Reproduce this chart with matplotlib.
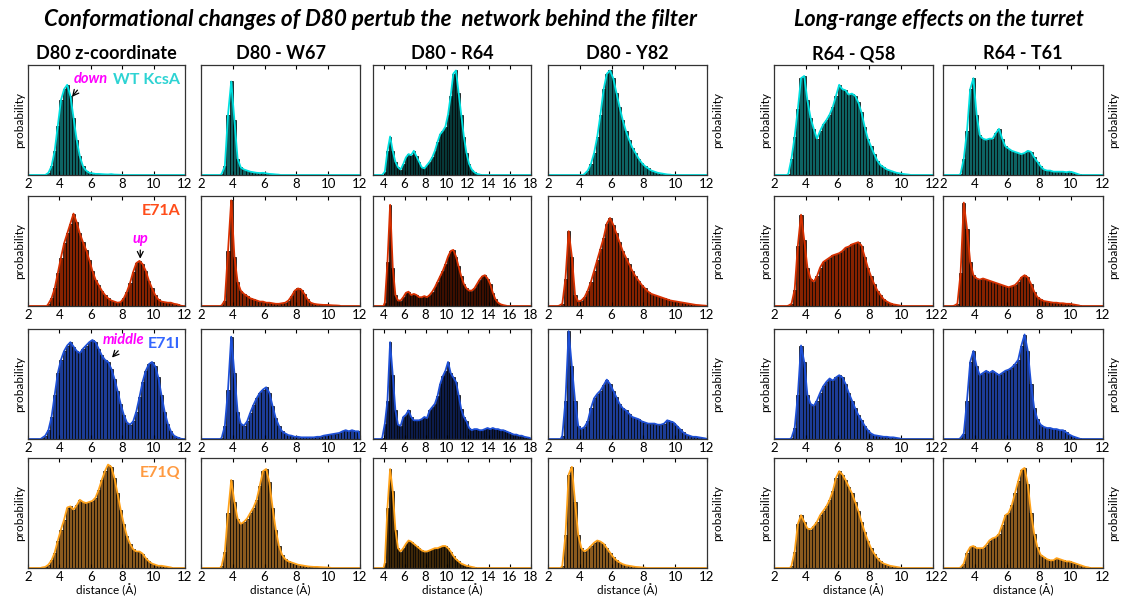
import matplotlib
matplotlib.use("Agg")
import matplotlib.pyplot as plt
import numpy as np

plt.rcParams['font.family'] = ['Lato', 'DejaVu Sans']

# histogram heights (% of panel height), bins start at *_start, width 0.2 A (0.25 A for R64)

# WT KcsA
wt_start = [3.0, 3.2, 3.75, 4.2, 2.8, 3.0]
wt_z = [0, 2, 8, 22, 45, 68, 78, 82, 72, 52, 32, 17, 8, 4, 2, 1.5, 1, 1, 0.8, 0.6, 0.5, 0.8, 0.4, 0.3, 0.2]
wt_w67 = [1, 8, 55, 85, 50, 15, 7, 5, 4, 3, 2.5, 2, 1.8, 2, 1.5, 1, 0.8, 0.5, 0.3]
wt_r64 = [0, 3, 22, 35, 22, 12, 7, 5, 10, 16, 19, 18, 22, 17, 12, 7, 6, 9, 12, 16, 22, 30, 37, 40,
          44, 55, 72, 92, 95, 75, 55, 35, 20, 10, 5, 2.5, 1, 0.5]
wt_y82 = [1, 4, 10, 20, 35, 55, 78, 92, 95, 88, 75, 62, 50, 40, 32, 25, 20, 15, 11, 8, 6, 4, 3, 2,
          1.5, 1, 0.5, 0.3]
wt_q58 = [1, 15, 35, 60, 88, 90, 68, 52, 42, 33, 40, 46, 50, 55, 62, 72, 82, 78, 77, 73, 74, 72, 66,
          57, 44, 33, 26, 19, 13, 9, 7, 5, 4, 3, 2, 1.5, 1, 0.6, 0.3]
wt_t61 = [1, 15, 40, 78, 88, 55, 36, 33, 32, 33, 33, 38, 42, 33, 26, 24, 22, 21, 20, 19, 20, 22, 21,
          16, 12, 8, 5, 4, 4, 3, 3, 3, 3, 2.5, 3, 2.5, 1.5, 0.5]

# E71A
e71a_start = [3.2, 3.2, 4.0, 2.6, 2.8, 2.6]
e71a_z = [2, 7, 16, 30, 44, 57, 66, 75, 84, 76, 66, 58, 51, 42, 32, 24, 19, 14, 10, 7, 5, 4, 3, 3.5,
          7, 13, 21, 31, 39, 41, 38, 32, 23, 16, 10, 6, 4, 3.5, 3, 3, 2, 1.5, 0.5]
e71a_w67 = [0.5, 5, 50, 96, 45, 22, 14, 11, 9, 7, 6, 5, 4, 4, 3, 3, 2.5, 2, 2, 2.5, 3, 5, 9, 14, 16, 15,
            11, 6, 3, 2, 1.5, 1.2, 1, 1, 0.8, 0.6, 0.5, 0.3]
e71a_r64 = [3, 40, 92, 35, 10, 5, 5, 8, 12, 13, 10, 11, 10, 8, 8, 9, 8, 10, 13, 17, 22, 27, 32, 38,
            45, 50, 51, 45, 36, 27, 20, 16, 14, 14, 16, 20, 24, 27, 28, 25, 20, 12, 6, 3, 1.5, 0.8, 0.3]
e71a_y82 = [0.3, 2, 25, 68, 45, 10, 4, 5, 8, 14, 22, 32, 42, 52, 62, 75, 80, 74, 66, 58, 50, 44, 38, 32,
            27, 23, 19, 16, 13, 11, 10, 9, 8, 7, 6, 5, 4.5, 4, 3.5, 3, 2.5, 2, 1.5, 1, 0.8, 0.5, 0.3]
e71a_q58 = [0.3, 2, 15, 55, 83, 60, 35, 25, 22, 27, 35, 40, 42, 44, 46, 47, 48, 50, 53, 54, 56, 57, 58,
            55, 45, 35, 27, 20, 14, 10, 6, 4, 2.5, 1.5, 1, 0.5]
e71a_t61 = [0.3, 2, 30, 94, 70, 40, 28, 25, 24, 25, 24, 23, 22, 21, 20, 19, 18, 17, 18, 19, 22, 26, 28,
            26, 20, 13, 8, 6, 4.5, 4, 3.5, 3, 3, 2.5, 2.5, 2, 2, 1.5, 1, 0.5]

# E71I
e71i_start = [2.8, 3.2, 3.75, 2.8, 3.0, 3.0]
e71i_z = [1, 3, 8, 20, 40, 60, 72, 80, 85, 88, 84, 80, 78, 82, 85, 88, 90, 88, 82, 76, 72, 70, 64, 55,
          44, 32, 22, 15, 13, 16, 25, 38, 52, 62, 68, 70, 66, 56, 40, 25, 14, 7, 3, 1.5, 0.5]
e71i_w67 = [1, 12, 45, 93, 60, 25, 14, 12, 16, 24, 31, 37, 42, 45, 47, 42, 30, 19, 12, 7, 5, 3.5, 3,
            2, 2, 1.5, 1.5, 1.5, 1.5, 1.5, 2, 2, 3, 3.5, 4, 4.5, 5, 5.5, 7, 8, 7, 8, 7, 7]
e71i_r64 = [1, 14, 35, 88, 58, 26, 13, 12, 20, 22, 26, 20, 17, 17, 17, 18, 20, 19, 26, 29, 32, 39, 50,
            57, 62, 70, 60, 56, 52, 40, 27, 20, 16, 10, 8, 9, 9, 8, 8, 9, 10, 9, 10, 9, 9, 8, 8, 7, 6,
            5, 4, 4, 3, 3, 2, 1.5, 1]
e71i_y82 = [3, 35, 98, 66, 35, 12, 9, 11, 16, 28, 37, 41, 44, 49, 54, 50, 44, 38, 32, 28, 26, 23, 20,
            19, 18, 16, 15, 14, 14, 14, 13, 13, 14, 17, 16, 15, 12, 9, 6, 4, 3, 2, 2, 1.5, 1, 0.5]
e71i_q58 = [1, 10, 40, 85, 70, 40, 32, 30, 35, 42, 48, 52, 55, 53, 56, 58, 56, 50, 42, 35, 28, 22, 17,
            12, 8, 5, 3.5, 3, 2.5, 2, 2, 1.5, 1.5, 1, 0.5]
e71i_t61 = [1, 5, 35, 70, 80, 66, 58, 60, 62, 60, 62, 60, 58, 60, 62, 63, 65, 68, 72, 85, 95, 80, 50, 28,
            18, 13, 11, 10, 10, 9, 9, 8, 8, 6, 4, 2.5, 1.5, 0.5]

# E71Q
e71q_start = [2.8, 3.2, 4.0, 2.8, 3.0, 3.0]
e71q_z = [0.5, 1, 3, 7, 14, 25, 35, 44, 55, 56, 53, 57, 62, 60, 59, 60, 61, 64, 71, 80, 88, 94, 92, 82,
          68, 53, 40, 29, 22, 17, 15, 15, 13, 9, 6, 4, 3, 2, 2, 1.5, 1, 0.5]
e71q_w67 = [2, 15, 50, 80, 60, 45, 40, 42, 45, 50, 55, 62, 75, 88, 90, 78, 55, 35, 20, 12, 8, 6, 5, 4,
            3, 2.5, 2, 1.5, 1.2, 1, 1, 0.8, 0.6, 0.5, 0.3]
e71q_r64 = [5, 55, 90, 70, 35, 18, 15, 18, 22, 25, 24, 22, 20, 18, 16, 15, 15, 16, 17, 18, 18, 19, 20,
            20, 18, 15, 11, 8, 6, 4, 3, 2, 1.5, 1, 0.5]
e71q_y82 = [2, 30, 85, 92, 60, 30, 18, 15, 17, 20, 23, 25, 24, 22, 18, 14, 10, 7, 5, 3.5, 2.5, 2, 1.5,
            1, 0.8, 0.5, 0.3]
e71q_q58 = [2, 15, 40, 48, 42, 36, 35, 38, 42, 48, 52, 56, 62, 70, 82, 88, 85, 80, 74, 68, 60, 52, 42,
            33, 25, 18, 13, 9, 6, 4, 3, 2, 1.5, 1, 0.5]
e71q_t61 = [0.5, 4, 14, 19, 20, 18, 18, 18, 21, 25, 27, 28, 31, 39, 48, 50, 57, 68, 79, 89, 91, 76, 50,
            31, 19, 12, 10, 8, 7, 7, 9, 8, 7, 6, 6, 5, 4, 3, 2, 1, 0.5]

col_titles = ["D80 z-coordinate", "D80 - W67", "D80 - R64", "D80 - Y82", "R64 - Q58", "R64 - T61"]
bin_width = [0.2, 0.2, 0.25, 0.2, 0.2, 0.2]
xlims = [(2, 12), (2, 12), (3, 18), (2, 12), (2, 12), (2, 12)]
xticks = [range(2, 13, 2), range(2, 13, 2), range(4, 19, 2), range(2, 13, 2), range(2, 13, 2), range(2, 13, 2)]

row_labels = ["WT KcsA", "E71A", "E71I", "E71Q"]
label_colors = ["#2ed3d3", "#ff4d1a", "#3366ff", "#ff9a40"]
face_colors = ["#0d6464", "#862200", "#1c3c96", "#8a5a1e"]
dark_colors = ["#063838", "#3e0f00", "#0c1c4c", "#3f2808"]
line_colors = ["#00e0e0", "#d83000", "#1d4fd6", "#ffa21a"]

grid = [[wt_z, wt_w67, wt_r64, wt_y82, wt_q58, wt_t61],
        [e71a_z, e71a_w67, e71a_r64, e71a_y82, e71a_q58, e71a_t61],
        [e71i_z, e71i_w67, e71i_r64, e71i_y82, e71i_q58, e71i_t61],
        [e71q_z, e71q_w67, e71q_r64, e71q_y82, e71q_q58, e71q_t61]]
starts = [wt_start, e71a_start, e71i_start, e71q_start]

W, H = 1122, 597
col_left = [28, 201, 373, 548, 774, 943]
col_width = [157, 159, 158, 159, 159, 160]
row_top = [65, 196, 329, 458]
row_h = 110

fig = plt.figure(figsize=(W / 100, H / 100), dpi=100)
axes = {}

for r in range(4):
    for c in range(6):
        ax = fig.add_axes([col_left[c] / W, 1 - (row_top[r] + row_h) / H, col_width[c] / W, row_h / H])
        axes[(r, c)] = ax
        vals = np.array(grid[r][c], dtype=float)
        bw = bin_width[c]
        start = starts[r][c]
        centers = start + bw * (np.arange(len(vals)) + 0.5)
        face = dark_colors[r] if c == 2 else face_colors[r]
        ax.bar(centers, vals, width=bw, color=face, edgecolor="black", linewidth=0.5)
        x0, x1 = xlims[c]
        end = start + bw * len(vals)
        xs = np.concatenate([[x0, start], centers, [end, x1]])
        ys = np.concatenate([[0, 0], vals, [0, 0]])
        ax.plot(xs, ys, color=line_colors[r], lw=1.3)
        ax.set_xlim(x0, x1)
        ax.set_ylim(0, 100)
        ax.set_yticks([])
        ax.set_xticks(list(xticks[c]))
        ax.tick_params(axis="x", direction="in", top=True, length=3, labelsize=9.5, pad=2)
        for s in ax.spines.values():
            s.set_color("#333333")
            s.set_linewidth(0.9)
        if c in (0, 4):
            ax.set_ylabel("probability", fontsize=8.5, labelpad=2)
        if c in (3, 5):
            ax.yaxis.set_label_position("right")
            ax.set_ylabel("probability", fontsize=8.5, labelpad=4)
        if r == 0:
            ax.set_title(col_titles[c], fontsize=13, fontweight="bold", pad=4)
        if r == 3:
            ax.set_xlabel("distance (Å)", fontsize=8.5, labelpad=1)
    axes[(r, 0)].text(0.97, 0.86, row_labels[r], transform=axes[(r, 0)].transAxes, ha="right",
                      va="center", color=label_colors[r], fontsize=11.5, fontweight="bold")

# state annotations
ann = dict(color="#ff00ff", fontsize=10.5, fontweight="bold", style="italic", ha="center", va="center")
arrow = dict(arrowstyle="->", color="black", lw=0.9, shrinkA=1, shrinkB=0)
axes[(0, 0)].annotate("down", xy=(4.8, 71), xytext=(6.0, 87), arrowprops=dict(arrow, relpos=(0.2, 0.0)), **ann)
axes[(1, 0)].annotate("up", xy=(9.15, 43), xytext=(9.15, 61), arrowprops=arrow, **ann)
axes[(2, 0)].annotate("middle", xy=(7.35, 74), xytext=(8.1, 90), arrowprops=dict(arrow, relpos=(0.45, 0.0)), **ann)

fig.text(370 / W, 1 - 19 / H, "Conformational changes of D80 pertub the  network behind the filter",
         ha="center", va="center", fontsize=16.2, fontweight="bold", style="italic")
fig.text(939 / W, 1 - 19 / H, "Long-range effects on the turret",
         ha="center", va="center", fontsize=15.5, fontweight="bold", style="italic")

fig.savefig("out.png", dpi=100)
